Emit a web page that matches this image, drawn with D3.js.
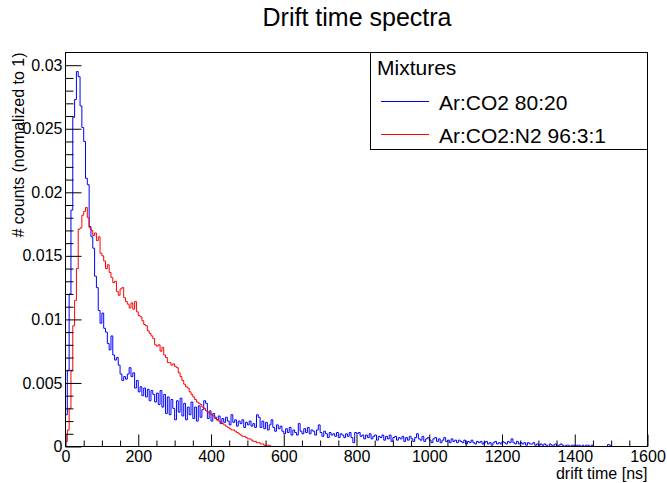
<!DOCTYPE html>
<html><head><meta charset="utf-8">
<script src="https://cdn.jsdelivr.net/npm/d3@7"></script>
<style>
html,body{margin:0;padding:0;background:#fff;}
svg{display:block;font-family:"Liberation Sans",Arial,Helvetica,sans-serif;}
</style></head>
<body>
<svg id="chart" width="667" height="483"></svg>
<script>
// ---- data (bin width 5 ns, bins start at 0 ns) ----
const binWidth = 5;
const xDomain = [0, 1600];
const yDomain = [0, 0.031];
const xMajorTicks = [0, 200, 400, 600, 800, 1000, 1200, 1400, 1600];
const xTickLabels = ["0", "200", "400", "600", "800", "1000", "1200", "1400", "1600"];
const yMajorTicks = [0, 0.005, 0.01, 0.015, 0.02, 0.025, 0.03];
const yTickLabels = ["0", "0.005", "0.01", "0.015", "0.02", "0.025", "0.03"];
const seriesNames = ["Ar:CO2 80:20", "Ar:CO2:N2 96:3:1"];
const seriesColors = ["#0000ff", "#ff0000"];

const blueCounts = [
0.0025,0.0060,0.0120,0.0186,0.0259,0.0273,0.0295,0.0291,0.0268,0.0251,
0.0240,0.0211,0.0206,0.0173,0.0165,0.0156,0.0134,0.0125,0.0107,0.0097,
0.0105,0.0093,0.0090,0.0081,0.0076,0.0087,0.0072,0.0068,0.0070,0.0064,
0.0057,0.0052,0.0055,0.0053,0.0057,0.0062,0.0055,0.0058,0.0046,0.0052,
0.0043,0.0047,0.0040,0.0046,0.0039,0.0045,0.0036,0.0044,0.0041,0.0035,
0.0042,0.0033,0.0044,0.0031,0.0041,0.0026,0.0039,0.0025,0.0037,0.0030,
0.0021,0.0036,0.0027,0.0038,0.0024,0.0034,0.0021,0.0031,0.0025,0.0035,
0.0022,0.0031,0.0020,0.0032,0.0023,0.0029,0.0036,0.0034,0.0022,0.0028,
0.0020,0.0026,0.0023,0.0021,0.0024,0.0018,0.0022,0.0019,0.0023,0.0020,
0.0017,0.0025,0.0019,0.0021,0.0016,0.0020,0.0018,0.0021,0.0015,0.0019,
0.0017,0.0020,0.0016,0.0018,0.0015,0.0025,0.0023,0.0015,0.0020,0.0014,
0.0019,0.0013,0.0017,0.0021,0.0015,0.0012,0.0017,0.0014,0.0016,0.0012,
0.0010,0.0014,0.0011,0.0015,0.0009,0.0013,0.0011,0.0009,0.0018,0.0012,
0.0010,0.0014,0.0011,0.0015,0.0010,0.0013,0.0012,0.0009,0.0013,0.0017,
0.0011,0.0008,0.0012,0.0010,0.0007,0.0011,0.0009,0.0010,0.0008,0.0011,
0.0007,0.0010,0.0009,0.0007,0.0010,0.0008,0.0011,0.0007,0.0003,0.0011,
0.0010,0.0011,0.0008,0.0009,0.0006,0.0009,0.0007,0.0010,0.0006,0.0008,
0.0009,0.0005,0.0008,0.0007,0.0009,0.0005,0.0008,0.0006,0.0009,0.0004,
0.0007,0.0008,0.0005,0.0007,0.0006,0.0008,0.0004,0.0007,0.0005,0.0008,
0.0006,0.0004,0.0007,0.0010,0.0006,0.0005,0.0008,0.0004,0.0006,0.0007,
0.0005,0.0003,0.0006,0.0007,0.0004,0.0006,0.0003,0.0005,0.0007,0.0004,
0.0005,0.0003,0.0006,0.0004,0.0005,0.0003,0.0005,0.0004,0.0003,0.0005,
0.0002,0.0004,0.0003,0.0005,0.0003,0.0002,0.0004,0.0003,0.0004,0.0002,
0.0003,0.0004,0.0002,0.0003,0.0001,0.0003,0.0004,0.0002,0.0003,0.0002,
0.0004,0.0003,0.0002,0.0004,0.0003,0.0006,0.0003,0.0002,0.0004,0.0002,
0.0003,0.0002,0.0003,0.0001,0.0003,0.0002,0.0002,0.0003,0.0001,0.0002,
0.0001,0.0002,0.0001,0.0002,0.0001,0,0.0002,0.0001,0.0001,0.0002,
0,0.0001,0.0002,0.0001,0,0.0001,0.0001,0,0.0001,0.0001,
0,0.0001,0.0001,0,0.0001,0,0.0001,0.0001,0,0.0001,
0,0,0,0,0,0,0,0,0.00015,0.0001,
0,0,0,0,0,0,0,0,0,0,
0,0,0,0,0,0,0,0,0,0
];

const redCounts = [
0.0004,0.0013,0.0030,0.0060,0.0095,0.0115,0.0140,0.0171,0.0172,0.0182,
0.0185,0.0188,0.0180,0.0172,0.0170,0.0166,0.0168,0.0162,0.0165,0.0152,
0.0150,0.0146,0.0140,0.0143,0.0137,0.0133,0.0129,0.0130,0.0122,0.0119,
0.0124,0.0125,0.0117,0.0114,0.0112,0.0109,0.0113,0.0108,0.0114,0.0106,
0.0103,0.0102,0.0099,0.0096,0.0095,0.0091,0.0089,0.0087,0.0085,0.0080,
0.0079,0.0080,0.0075,0.0078,0.0072,0.0070,0.0066,0.0066,0.0064,0.0065,
0.0063,0.0062,0.0058,0.0055,0.0052,0.0049,0.0047,0.0046,0.0043,0.0041,
0.0039,0.0037,0.0035,0.0034,0.0033,0.0031,0.0030,0.0028,0.0027,0.0026,
0.0025,0.0024,0.0022,0.0021,0.0020,0.0019,0.0018,0.0017,0.0016,0.0015,
0.0014,0.0013,0.0013,0.0012,0.0011,0.0010,0.0009,0.0008,0.0008,0.0007,
0.0006,0.0006,0.0005,0.0004,0.0004,0.0003,0.0003,0.0002,0.0002,0.0001,
0.0001,0.0001,0.00005,0,0,0,0,0,0,0,
0,0,0,0,0,0,0,0,0,0,
0,0,0,0,0,0,0,0,0,0,
0,0,0,0,0,0,0,0,0,0,
0,0,0,0,0,0,0,0,0,0,
0,0,0,0,0,0,0,0,0,0,
0,0,0,0,0,0,0,0,0,0,
0,0,0,0,0,0,0,0,0,0,
0,0,0,0,0,0,0,0,0,0,
0,0,0,0,0,0,0,0,0,0,
0,0,0,0,0,0,0,0,0,0,
0,0,0,0,0,0,0,0,0,0,
0,0,0,0,0,0,0,0,0,0,
0,0,0,0,0,0,0,0,0,0,
0,0,0,0,0,0,0,0,0,0,
0,0,0,0,0,0,0,0,0,0,
0,0,0,0,0,0,0,0,0,0,
0,0,0,0,0,0,0,0,0,0,
0,0,0,0,0,0,0,0,0,0,
0,0,0,0,0,0,0,0,0,0,
0,0,0,0,0,0,0,0,0,0
];

// ---- layout ----
const L = 65.5, R = 647.5, T = 52.5, B = 446.5;
const svg = d3.select("#chart");
const x = d3.scaleLinear().domain(xDomain).range([L, R]);
const y = d3.scaleLinear().domain(yDomain).range([B, T]);

// title
svg.append("text").attr("x", 357).attr("y", 26).attr("text-anchor", "middle")
  .attr("font-size", 25).text("Drift time spectra");

// histograms
svg.append("clipPath").attr("id", "plotclip")
  .append("rect").attr("x", L).attr("y", T).attr("width", R - L).attr("height", B - T);
const line = d3.line().x(d => x(d[0])).y(d => y(d[1])).curve(d3.curveStepAfter);
function histPoints(counts) {
  const pts = [[0, 0]];
  counts.forEach((v, i) => pts.push([i * binWidth, v]));
  pts.push([counts.length * binWidth, counts[counts.length - 1]]);
  return pts;
}
[blueCounts, redCounts].forEach((c, k) => {
  svg.append("path").attr("d", line(histPoints(c)))
    .attr("fill", "none").attr("stroke", seriesColors[k]).attr("stroke-width", 1)
    .attr("clip-path", "url(#plotclip)");
});

// axes
const yAxis = d3.axisLeft(y).tickValues(yMajorTicks).tickSize(-16).tickPadding(3)
  .tickFormat((d, i) => yTickLabels[i]);
const yMinor = d3.axisLeft(y).tickValues(d3.range(0, 0.0305, 0.001).filter(v => Math.abs(v / 0.005 - Math.round(v / 0.005)) > 1e-6))
  .tickSize(-8).tickFormat("");
const xAxis = d3.axisBottom(x).tickValues(xMajorTicks).tickSize(-12).tickPadding(4)
  .tickFormat((d, i) => xTickLabels[i]);
const xMinor = d3.axisBottom(x).tickValues(d3.range(50, 1600, 50).filter(v => v % 200 !== 0))
  .tickSize(-6).tickFormat("");

function styleAxis(g, fs) {
  g.select(".domain").remove();
  g.selectAll("line").attr("stroke", "#000");
  g.selectAll("text").attr("font-size", fs).attr("fill", "#000")
    .style("font-family", '"Liberation Sans",Arial,Helvetica,sans-serif');
}
svg.append("g").attr("transform", `translate(${L},0)`).call(yMinor).call(g => styleAxis(g, 16));
svg.append("g").attr("transform", `translate(${L},0)`).call(yAxis).call(g => styleAxis(g, 16));
svg.append("g").attr("transform", `translate(0,${B})`).call(xMinor).call(g => styleAxis(g, 16));
svg.append("g").attr("transform", `translate(0,${B})`).call(xAxis).call(g => styleAxis(g, 16));

// frame
svg.append("rect").attr("x", L).attr("y", T).attr("width", R - L).attr("height", B - T)
  .attr("fill", "none").attr("stroke", "#000").attr("stroke-width", 1);

// axis titles
svg.append("text").attr("x", R).attr("y", 479).attr("text-anchor", "end")
  .attr("font-size", 16).text("drift time [ns]");
svg.append("text").attr("transform", `translate(24,${T}) rotate(-90)`).attr("text-anchor", "end")
  .attr("font-size", 16).text("# counts (normalized to 1)");

// legend
const lg = svg.append("g");
lg.append("rect").attr("x", 370.5).attr("y", T).attr("width", R - 370.5).attr("height", 97)
  .attr("fill", "#fff").attr("stroke", "#000").attr("stroke-width", 1);
lg.append("text").attr("x", 377).attr("y", 75).attr("font-size", 21).text("Mixtures");
const entryY = [101.5, 134.5];
seriesNames.forEach((n, i) => {
  lg.append("line").attr("x1", 381).attr("x2", 429).attr("y1", entryY[i]).attr("y2", entryY[i])
    .attr("stroke", seriesColors[i]).attr("stroke-width", 1);
  lg.append("text").attr("x", 439).attr("y", entryY[i] + 8).attr("font-size", 21).text(n);
});
</script>
</body></html>
